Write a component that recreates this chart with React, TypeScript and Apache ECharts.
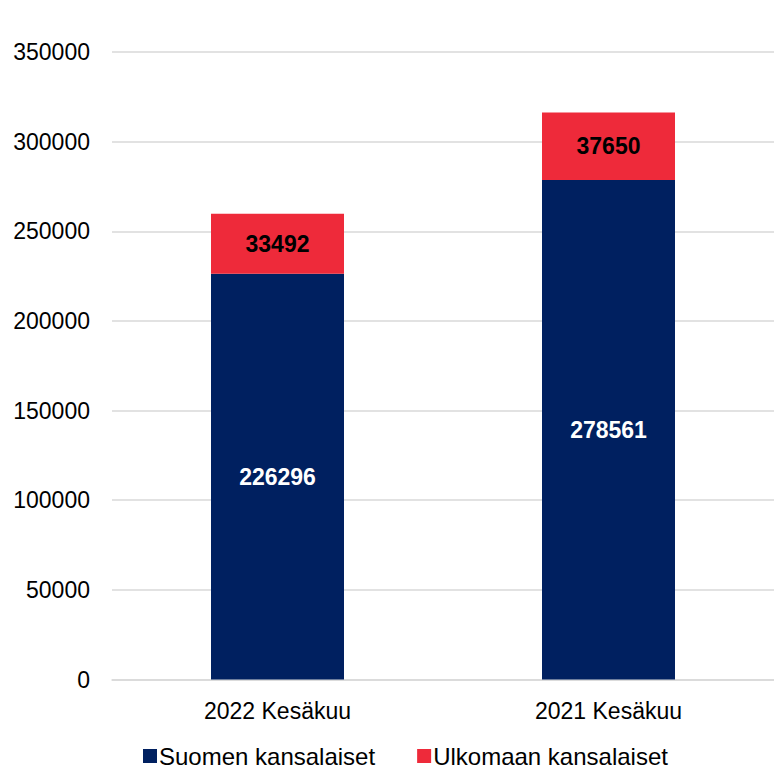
import React, { useEffect, useRef } from "react";
import * as echarts from "echarts";

const categories = ["2022 Kesäkuu", "2021 Kesäkuu"];
const suomen = [226296, 278561];
const ulkomaan = [33492, 37650];
const seriesNames = ["Suomen kansalaiset", "Ulkomaan kansalaiset"];

const FONT = "Liberation Sans, Arial, sans-serif";

export default function App() {
  const ref = useRef<HTMLDivElement>(null);
  useEffect(() => {
    if (!ref.current) return;
    const chart = echarts.init(ref.current, undefined, { renderer: "svg" });
    chart.setOption({
      animation: false,
      textStyle: { fontFamily: FONT },
      grid: { left: 112, right: -4, top: 52, bottom: 89.5, containLabel: false },
      legend: {
        left: 143,
        top: 744,
        padding: 0,
        itemWidth: 14,
        itemHeight: 14,
        itemGap: 42,
        icon: "rect",
        textStyle: { fontFamily: FONT, fontSize: 24, color: "#000", padding: [0, 0, 0, -3] },
        data: seriesNames,
      },
      xAxis: {
        type: "category",
        data: categories,
        axisLine: { show: true, lineStyle: { color: "#D9D9D9", width: 1.5 } },
        axisTick: { show: false },
        axisLabel: { fontFamily: FONT, fontSize: 23, color: "#000", margin: 20 },
      },
      yAxis: {
        type: "value",
        min: 0,
        max: 350000,
        interval: 50000,
        axisLine: { show: false },
        axisTick: { show: false },
        splitLine: { lineStyle: { color: "#D9D9D9", width: 1.5 } },
        axisLabel: {
          fontFamily: FONT,
          fontSize: 23,
          color: "#000",
          margin: 22,
          formatter: (v: number) => String(v),
        },
      },
      series: [
        {
          name: seriesNames[0],
          type: "bar",
          stack: "total",
          barWidth: 133,
          data: suomen,
          itemStyle: { color: "#002060" },
          label: {
            show: true,
            position: "inside",
            color: "#fff",
            fontFamily: FONT,
            fontWeight: "bold",
            fontSize: 23,
          },
        },
        {
          name: seriesNames[1],
          type: "bar",
          stack: "total",
          barWidth: 133,
          data: ulkomaan,
          itemStyle: { color: "#EE2A3A" },
          label: {
            show: true,
            position: "inside",
            color: "#000",
            fontFamily: FONT,
            fontWeight: "bold",
            fontSize: 23,
          },
        },
      ],
    });
    return () => chart.dispose();
  }, []);
  return (
    <div
      ref={ref}
      style={{ position: "fixed", left: 0, top: 0, width: 774, height: 769, background: "#fff" }}
    />
  );
}
